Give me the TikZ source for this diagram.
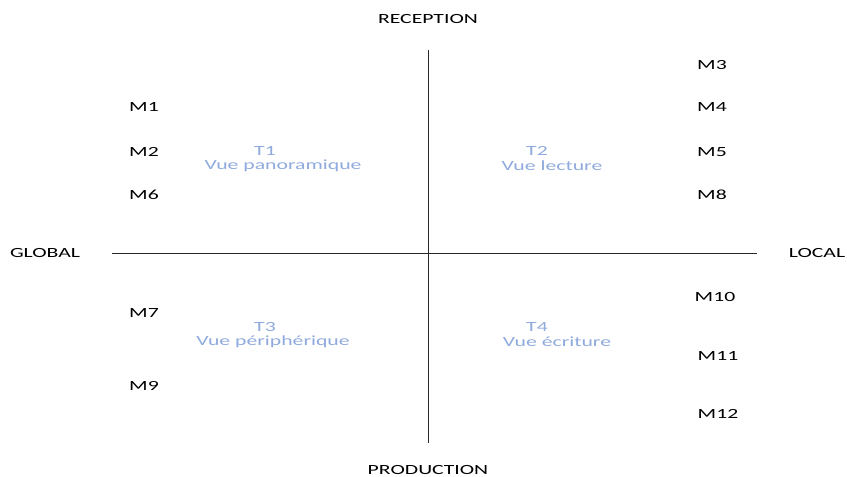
\documentclass[tikz,border=0pt]{standalone}
\usepackage{fontspec}
\setmainfont{Carlito}[FakeStretch=1.55]
\definecolor{tblue}{RGB}{143,170,220}
\definecolor{axis}{RGB}{40,40,40}
\begin{document}
\begin{tikzpicture}[x=1pt,y=-1pt,
  lab/.style={font=\fontsize{14}{16}\selectfont, text=black, inner sep=0pt},
  quad/.style={font=\fontsize{14}{15}\selectfont, text=tblue, inner sep=0pt, align=center},
  ax/.style={draw=axis, line width=1pt}]
\useasboundingbox (0,0) rectangle (847,477);
\coordinate (hl) at (112,253);
\coordinate (hr) at (757,253);
\coordinate (vt) at (428,50);
\coordinate (vb) at (428,443);
\draw[ax] (hl) -- (hr);
\draw[ax] (vt) -- (vb);
\node[lab] (rec) at (428,19) {RECEPTION};
\node[lab] (prod) at (428,470.5) {PRODUCTION};
\node[lab] (glob) at (45,253) {GLOBAL};
\node[lab] (loc) at (817,253) {LOCAL};
\node[lab] (m1) at (144,107) {M1};
\node[lab] (m2) at (144,152) {M2};
\node[lab] (m6) at (144,195) {M6};
\node[lab] (m7) at (144,313) {M7};
\node[lab] (m9) at (144,386) {M9};
\node[lab] (m3) at (712,65) {M3};
\node[lab] (m4) at (712,107) {M4};
\node[lab] (m5) at (712,152) {M5};
\node[lab] (m8) at (712,195) {M8};
\node[lab] (m10) at (715,297) {M10};
\node[lab] (m11) at (718,356) {M11};
\node[lab] (m12) at (718,414) {M12};
\node[quad] (t1) at (265,151) {T1};
\node[quad] (t1b) at (283,166) {Vue panoramique};
\node[quad] (t2) at (537,151) {T2};
\node[quad] (t2b) at (552,166) {Vue lecture};
\node[quad] (t3) at (265,327) {T3};
\node[quad] (t3b) at (273,342) {Vue périphérique};
\node[quad] (t4) at (537,327) {T4};
\node[quad] (t4b) at (557,342) {Vue écriture};
\end{tikzpicture}
\end{document}
